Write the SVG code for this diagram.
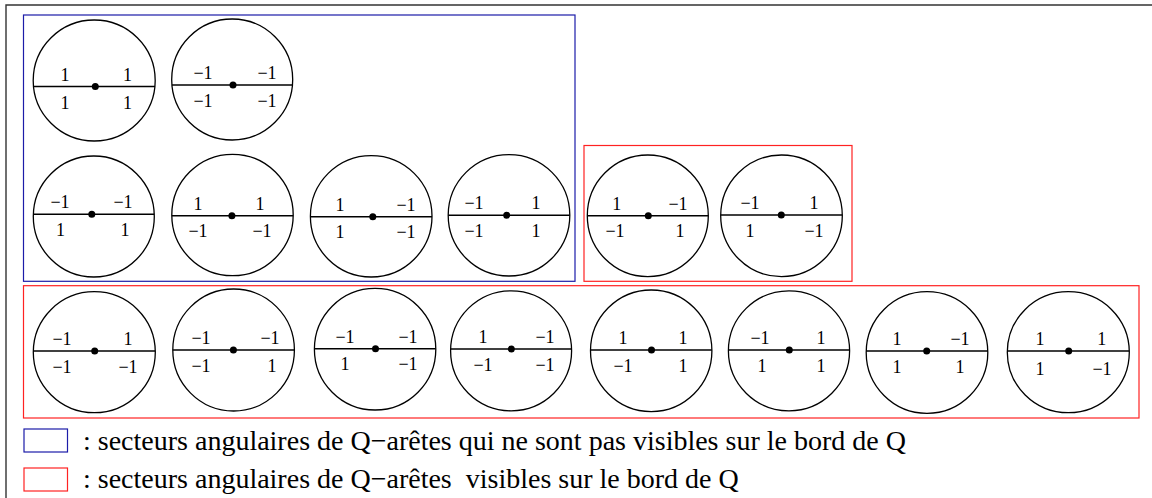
<svg xmlns="http://www.w3.org/2000/svg" width="1152" height="498" viewBox="0 0 1152 498">
<style>
.frame{fill:none;stroke:#333;stroke-width:1.4}
.blue{fill:none;stroke:#1c1ca8;stroke-width:1.2}
.red{fill:none;stroke:#f22;stroke-width:1.2}
.c{fill:none;stroke:#000;stroke-width:1.3}
.l{stroke:#000;stroke-width:1.4}
.d{fill:#000}
.t{font-family:"Liberation Serif","Times New Roman",serif;font-size:18px;fill:#000;text-anchor:middle}
.lg{font-family:"Liberation Serif","Times New Roman",serif;font-size:28px;fill:#000}
</style>
<rect width="1152" height="498" fill="#fff"/>
<path class="frame" d="M6,498 V5 H1152"/>
<g id="groups">
<rect id="blue-box" class="blue" x="23.5" y="15" width="551.5" height="266.3"/>
<rect id="red-box-1" class="red" x="584" y="145.5" width="268" height="135.8"/>
<rect id="red-box-2" class="red" x="23.5" y="285.7" width="1115.5" height="132.3"/>
</g>
<g id="connectors"/>
<g id="n1"><ellipse class="c" cx="94.2" cy="80.5" rx="61" ry="60.5"/><line class="l" x1="33.5" y1="86.5" x2="155" y2="86.5"/><circle class="d" cx="95.3" cy="86.5" r="3.5"/><text class="t" x="65" y="80.5">1</text><text class="t" x="127.5" y="80.5">1</text><text class="t" x="65" y="108.5">1</text><text class="t" x="127.5" y="108.5">1</text></g>
<g id="n2"><ellipse class="c" cx="232.2" cy="79.5" rx="60.5" ry="60.5"/><line class="l" x1="172" y1="85" x2="292.5" y2="85"/><circle class="d" cx="233" cy="85" r="3.5"/><text class="t" x="203" y="79">−1</text><text class="t" x="267" y="79">−1</text><text class="t" x="203" y="107">−1</text><text class="t" x="267" y="107">−1</text></g>
<g id="n3"><ellipse class="c" cx="93.8" cy="216.5" rx="60.5" ry="60.5"/><line class="l" x1="33.3" y1="214.3" x2="154.3" y2="214.3"/><circle class="d" cx="91.8" cy="214.3" r="3.5"/><text class="t" x="60" y="208.3">−1</text><text class="t" x="123" y="208.3">−1</text><text class="t" x="60.5" y="235.5">1</text><text class="t" x="125" y="235.5">1</text></g>
<g id="n4"><ellipse class="c" cx="232.5" cy="215" rx="60.7" ry="60.7"/><line class="l" x1="171.8" y1="215.7" x2="293.2" y2="215.7"/><circle class="d" cx="231.9" cy="215.7" r="3.5"/><text class="t" x="198" y="209.7">1</text><text class="t" x="260" y="209.7">1</text><text class="t" x="198" y="237">−1</text><text class="t" x="262" y="237">−1</text></g>
<g id="n5"><ellipse class="c" cx="371.2" cy="216.3" rx="60.8" ry="60.7"/><line class="l" x1="310.4" y1="216.7" x2="432" y2="216.7"/><circle class="d" cx="372.8" cy="216.7" r="3.5"/><text class="t" x="340" y="210.7">1</text><text class="t" x="406" y="210.7">−1</text><text class="t" x="340" y="238">1</text><text class="t" x="406" y="238">−1</text></g>
<g id="n6"><ellipse class="c" cx="509" cy="215.3" rx="60.8" ry="60.7"/><line class="l" x1="448.2" y1="215.3" x2="569.8" y2="215.3"/><circle class="d" cx="506.7" cy="215.3" r="3.5"/><text class="t" x="474" y="209.3">−1</text><text class="t" x="536" y="209.3">1</text><text class="t" x="474" y="237">−1</text><text class="t" x="536" y="237">1</text></g>
<g id="n7"><ellipse class="c" cx="647.8" cy="215.8" rx="60.5" ry="60.8"/><line class="l" x1="587.3" y1="215.7" x2="708.3" y2="215.7"/><circle class="d" cx="648.3" cy="215.7" r="3.5"/><text class="t" x="616.7" y="210">1</text><text class="t" x="678" y="210">−1</text><text class="t" x="615" y="237.3">−1</text><text class="t" x="680" y="237.3">1</text></g>
<g id="n8"><ellipse class="c" cx="781.5" cy="215.8" rx="60.8" ry="60.8"/><line class="l" x1="720.7" y1="215" x2="842.3" y2="215"/><circle class="d" cx="781.3" cy="215" r="3.5"/><text class="t" x="750" y="209.3">−1</text><text class="t" x="814" y="209.3">1</text><text class="t" x="750" y="236.6">1</text><text class="t" x="814" y="236.6">−1</text></g>
<g id="n9"><ellipse class="c" cx="94.3" cy="352.2" rx="61" ry="60.5"/><line class="l" x1="33.3" y1="351" x2="155.3" y2="351"/><circle class="d" cx="94.7" cy="351" r="3.5"/><text class="t" x="62" y="345">−1</text><text class="t" x="128" y="345">1</text><text class="t" x="62" y="372.5">−1</text><text class="t" x="128" y="372.5">−1</text></g>
<g id="n10"><ellipse class="c" cx="233.6" cy="350" rx="60.8" ry="61"/><line class="l" x1="172.8" y1="350" x2="294.4" y2="350"/><circle class="d" cx="233.4" cy="350" r="3.5"/><text class="t" x="201" y="344">−1</text><text class="t" x="270" y="344">−1</text><text class="t" x="201" y="371.5">−1</text><text class="t" x="272" y="371.5">1</text></g>
<g id="n11"><ellipse class="c" cx="375.1" cy="349.2" rx="60.7" ry="60.8"/><line class="l" x1="314.4" y1="348.7" x2="435.8" y2="348.7"/><circle class="d" cx="375.5" cy="348.7" r="3.5"/><text class="t" x="345" y="342.7">−1</text><text class="t" x="408" y="342.7">−1</text><text class="t" x="345" y="370">1</text><text class="t" x="408" y="370">−1</text></g>
<g id="n12"><ellipse class="c" cx="511.1" cy="350.8" rx="60.5" ry="60"/><line class="l" x1="450.6" y1="349" x2="571.6" y2="349"/><circle class="d" cx="511.3" cy="349" r="3.5"/><text class="t" x="483" y="343">1</text><text class="t" x="545" y="343">−1</text><text class="t" x="483" y="370.5">−1</text><text class="t" x="545" y="370.5">−1</text></g>
<g id="n13"><ellipse class="c" cx="651.2" cy="350.8" rx="60.7" ry="60.8"/><line class="l" x1="590.5" y1="350" x2="711.9" y2="350"/><circle class="d" cx="651.5" cy="350" r="3.5"/><text class="t" x="623" y="344">1</text><text class="t" x="683" y="344">1</text><text class="t" x="623" y="371.5">−1</text><text class="t" x="683" y="371.5">1</text></g>
<g id="n14"><ellipse class="c" cx="789" cy="350.8" rx="60.6" ry="60"/><line class="l" x1="728.4" y1="350" x2="849.6" y2="350"/><circle class="d" cx="789.3" cy="350" r="3.5"/><text class="t" x="760" y="344">−1</text><text class="t" x="821" y="344">1</text><text class="t" x="762" y="371.5">1</text><text class="t" x="821" y="371.5">1</text></g>
<g id="n15"><ellipse class="c" cx="927" cy="352.5" rx="60.8" ry="60.8"/><line class="l" x1="866.2" y1="351" x2="987.8" y2="351"/><circle class="d" cx="926.7" cy="351" r="3.5"/><text class="t" x="897" y="345">1</text><text class="t" x="960" y="345">−1</text><text class="t" x="897" y="372.5">1</text><text class="t" x="960" y="372.5">1</text></g>
<g id="n16"><ellipse class="c" cx="1068.3" cy="352.2" rx="61" ry="60.5"/><line class="l" x1="1007.3" y1="351" x2="1129.3" y2="351"/><circle class="d" cx="1068.7" cy="351" r="3.5"/><text class="t" x="1040" y="345">1</text><text class="t" x="1101.7" y="345">1</text><text class="t" x="1040" y="375">1</text><text class="t" x="1102" y="375">−1</text></g>
<g id="legend">
<rect class="blue" x="24" y="429" width="43.5" height="23"/>
<text class="lg" x="83" y="450">: secteurs angulaires de Q−arêtes qui ne sont pas visibles sur le bord de Q</text>
<rect class="red" x="24" y="468" width="43.5" height="23"/>
<text class="lg" x="83" y="488" xml:space="preserve">: secteurs angulaires de Q−arêtes  visibles sur le bord de Q</text>
</g>
</svg>
